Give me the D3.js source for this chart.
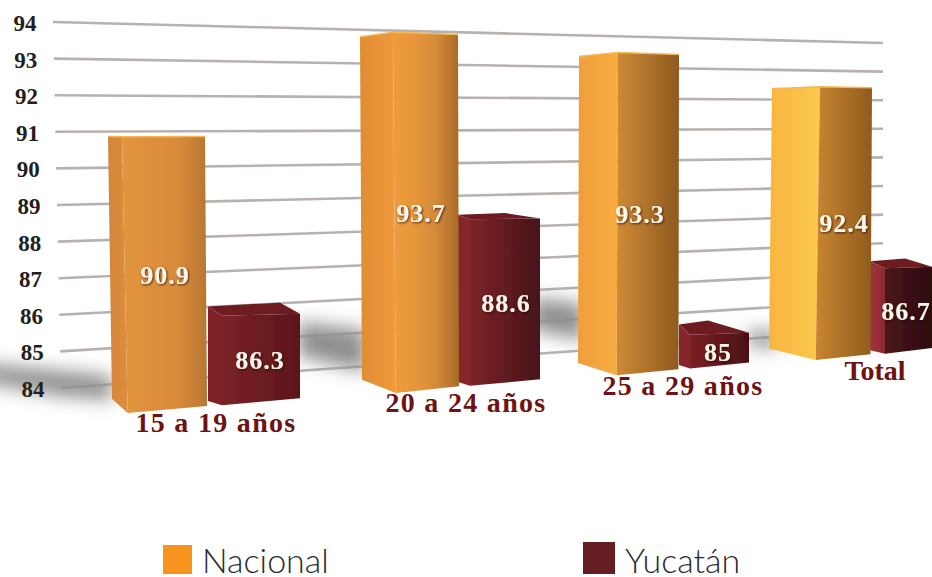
<!DOCTYPE html>
<html>
<head>
<meta charset="utf-8">
<script src="https://cdn.jsdelivr.net/npm/d3@7"></script>
<style>
  html, body { margin: 0; padding: 0; background: #fff; }
  svg { display: block; }
  text { font-family: "Liberation Serif", serif; }
</style>
</head>
<body>
<script>
var categories = ['15 a 19 años', '20 a 24 años', '25 a 29 años', 'Total'],
  nacional = [90.9, 93.7, 93.3, 92.4],
  yucatan = [86.3, 88.6, 85, 86.7],
  yTicks = [84, 85, 86, 87, 88, 89, 90, 91, 92, 93, 94],
  seriesNames = ['Nacional', 'Yucatán'];

var width = 932,
  height = 577,
  svg = d3.select('body').append('svg').attr('width', width).attr('height', height),
  defs = svg.append('defs');

// the wall the grid sits on, narrowing from left to right
var wallLeft = d3.scaleLinear().domain([84, 94]).range([388, 22]),
  wallRight = d3.scaleLinear().domain([84, 94]).range([329, 43]),
  wallStartX = d3.scaleLinear().domain([84, 94]).range([61, 53]),
  tickLabelX = d3.scaleLinear().domain([84, 94]).range([33, 25]),
  wallEndX = 883;

// the plane the front corners of the bars sit on
var frontLeft = d3.scaleLinear().domain([84, 94]).range([425.5, 7.5]),
  frontRight = d3.scaleLinear().domain([84, 94]).range([351.2, 38.2]),
  frontT = d3.scaleLinear().domain([0, width]).range([0, 1]),
  frontY = function(value, x) {
    return d3.interpolateNumber(frontLeft(value), frontRight(value))(frontT(x));
  },
  horizon = 130,
  recede = function(y, k) {
    return horizon + (y - horizon) * k;
  };

var barShapes = {
  nacional: {
    left: d3.scaleOrdinal(categories, [108, 360, 579, 772]),
    edge: d3.scaleOrdinal(categories, [122, 393, 618, 820]),
    right: d3.scaleOrdinal(categories, [205, 458, 679, 872]),
    lean: d3.scaleOrdinal(categories, [4, 2, -1, -3]),
    labelX: d3.scaleOrdinal(categories, [165, 421, 640, 844]),
    leftColors: [['#d4853a', '#dc8d3c'], ['#e08c35', '#f09b3c'], ['#f09e3b', '#f8ac41'], ['#f8b540', '#fcc94f']],
    rightColors: [
      ['#e2953f', '#de8f3d', '#d88b3b', '#b87633'],
      ['#ee9c3c', '#e6963a', '#d4893a', '#a86a28'],
      ['#cf8a35', '#8e5a20'],
      ['#c98531', '#8f5c1e']
    ],
    kLeft: 0.95,
    kTopLeft: 0.95,
    kRight: 0.975,
    kTopRight: 0.975
  },
  yucatan: {
    left: d3.scaleOrdinal(categories, [208, 458, 679, 870]),
    edge: d3.scaleOrdinal(categories, [222, 470, 690, 885]),
    right: d3.scaleOrdinal(categories, [300, 540, 749, 932]),
    back: d3.scaleOrdinal(categories, [280, 505, 708, 905]),
    lean: d3.scaleOrdinal(categories, [0, 0, 0, 0]),
    labelX: d3.scaleOrdinal(categories, [260, 506, 718, 906]),
    leftColors: [['#7d2228', '#7d2228'], ['#84262c', '#84262c'], ['#84262c', '#84262c'], ['#a0343b', '#8c2a31']],
    rightColors: [['#7b2228', '#5a1519'], ['#7d2328', '#45131a'], ['#7a2024', '#4a1016'], ['#4a1518', '#2e0c10']],
    kLeft: 0.985,
    kTopLeft: 0.95,
    kRight: 0.975,
    kTopRight: 0.99,
    kBack: 0.93
  }
};

var addGradient = function(id, colors) {
  var gradient = defs.append('linearGradient').attr('id', id);
  colors.forEach(function(color, j) {
    gradient.append('stop').attr('offset', (100 * j / (colors.length - 1)) + '%').attr('stop-color', color);
  });
  return 'url(#' + id + ')';
};

defs.append('filter').attr('id', 'soft').attr('x', '-40%').attr('y', '-60%')
  .attr('width', '180%').attr('height', '220%')
  .append('feGaussianBlur').attr('stdDeviation', 9);
defs.append('filter').attr('id', 'edge-blur')
  .append('feGaussianBlur').attr('stdDeviation', 0.5);

var labelShadow = defs.append('filter').attr('id', 'label-shadow')
  .attr('x', '-20%').attr('y', '-20%').attr('width', '140%').attr('height', '140%');
labelShadow.append('feDropShadow').attr('dx', 1).attr('dy', 1)
  .attr('stdDeviation', 1).attr('flood-color', '#2a1005').attr('flood-opacity', 0.8);

// grid
var gridG = svg.append('g').attr('filter', 'url(#edge-blur)');
yTicks.forEach(function(tick) {
  gridG.append('line').attr('x1', wallStartX(tick)).attr('y1', wallLeft(tick))
    .attr('x2', wallEndX).attr('y2', wallRight(tick))
    .attr('stroke', '#b7b2af').attr('stroke-width', 2.6);
});

// floor shadows
var shadowG = svg.append('g').attr('filter', 'url(#soft)'),
  shadowLine = d3.line();
[
  [[-30, 362], [112, 376], [112, 400], [60, 396], [-30, 380]],
  [[298, 322], [366, 330], [366, 372], [298, 356]],
  [[532, 298], [584, 304], [584, 340], [532, 330]],
  [[748, 330], [778, 332], [778, 348], [748, 346]]
].forEach(function(points) {
  shadowG.append('path').attr('d', shadowLine(points) + 'Z').attr('fill', '#8f8f8f');
});

yTicks.forEach(function(tick) {
  svg.append('text').attr('x', tickLabelX(tick)).attr('y', wallLeft(tick) + 9)
    .attr('text-anchor', 'middle').attr('font-size', 23).attr('font-weight', 'bold')
    .attr('fill', '#231f20').text(tick);
});

var drawBar = function(g, key, values, cat, i) {
  var shape = barShapes[key],
    value = values[i],
    xLeft = shape.left(cat),
    xEdge = shape.edge(cat),
    xRight = shape.right(cat),
    lean = shape.lean(cat),
    xMid = (xLeft + xRight) / 2,
    topY = frontY(value, xMid),
    baseY = frontY(84, xMid),
    leftFace = [
      [xLeft, recede(topY, shape.kTopLeft)],
      [xEdge, topY],
      [xEdge + lean * 1.4, baseY],
      [xLeft + lean, recede(baseY, shape.kLeft)]
    ],
    rightFace = [
      [xEdge, topY],
      [xRight, recede(topY, shape.kTopRight)],
      [xRight + lean * 0.5, recede(baseY, shape.kRight)],
      [xEdge + lean * 1.4, baseY]
    ];

  if (shape.back) {
    g.append('path').attr('d', shadowLine([
      leftFace[0],
      [shape.back(cat), recede(topY, shape.kBack)],
      rightFace[1],
      [xEdge, topY]
    ]) + 'Z').attr('fill', '#6d1a20');
  }

  g.append('path').attr('d', shadowLine(leftFace) + 'Z')
    .attr('fill', addGradient(key + '-left-' + i, shape.leftColors[i]));
  g.append('path').attr('d', shadowLine(rightFace) + 'Z')
    .attr('fill', addGradient(key + '-right-' + i, shape.rightColors[i]));

  if (!shape.back) {
    g.append('path').attr('d', d3.line()([leftFace[0], leftFace[1], rightFace[1]]))
      .attr('fill', 'none').attr('stroke', '#f6b657').attr('stroke-width', 1.5);
  }

  return (topY + baseY) / 2;
};

var barsG = svg.append('g').attr('filter', 'url(#edge-blur)'),
  labelsG = svg.append('g');

var addValueLabel = function(key, cat, value, y) {
  labelsG.append('text').attr('x', barShapes[key].labelX(cat)).attr('y', y + 9)
    .attr('text-anchor', 'middle').attr('font-size', 26).attr('font-weight', 'bold')
    .attr('letter-spacing', 1).attr('fill', '#fbf5ea')
    .attr('filter', 'url(#label-shadow)').text(value);
};

categories.forEach(function(cat, i) {
  addValueLabel('yucatan', cat, yucatan[i], drawBar(barsG, 'yucatan', yucatan, cat, i));
});
categories.forEach(function(cat, i) {
  addValueLabel('nacional', cat, nacional[i], drawBar(barsG, 'nacional', nacional, cat, i));
});

// category names
var categoryX = d3.scaleOrdinal(categories, [216, 466, 683, 875]),
  categoryY = d3.scaleOrdinal(categories, [432, 412, 395, 380]),
  categorySpacing = d3.scaleOrdinal(categories, [1.3, 1.3, 1.3, 0]);

svg.selectAll('text.category').data(categories).enter().append('text')
  .attr('class', 'category')
  .attr('x', function(d) { return categoryX(d); })
  .attr('y', function(d) { return categoryY(d); })
  .attr('text-anchor', 'middle').attr('font-size', 28).attr('font-weight', 'bold')
  .attr('letter-spacing', function(d) { return categorySpacing(d); })
  .attr('fill', '#6e1212').text(function(d) { return d; });

// legend
var legendX = d3.scaleOrdinal(seriesNames, [163, 583]),
  legendSize = d3.scaleOrdinal(seriesNames, [29, 32]),
  legendColor = d3.scaleOrdinal(seriesNames, ['#f7941e', '#651e22']),
  legendG = svg.selectAll('g.legend').data(seriesNames).enter().append('g').attr('class', 'legend');

legendG.append('rect')
  .attr('x', function(d) { return legendX(d); })
  .attr('y', function(d) { return 574 - legendSize(d); })
  .attr('width', function(d) { return legendSize(d); })
  .attr('height', function(d) { return legendSize(d); })
  .attr('fill', function(d) { return legendColor(d); });

legendG.append('text')
  .attr('x', function(d) { return legendX(d) + legendSize(d) + 10; })
  .attr('y', 573)
  .attr('font-size', 34)
  .attr('fill', '#2b2b2b')
  .style('font-family', 'Lato, sans-serif')
  .style('font-weight', 300)
  .text(function(d) { return d; });
</script>
</body>
</html>
